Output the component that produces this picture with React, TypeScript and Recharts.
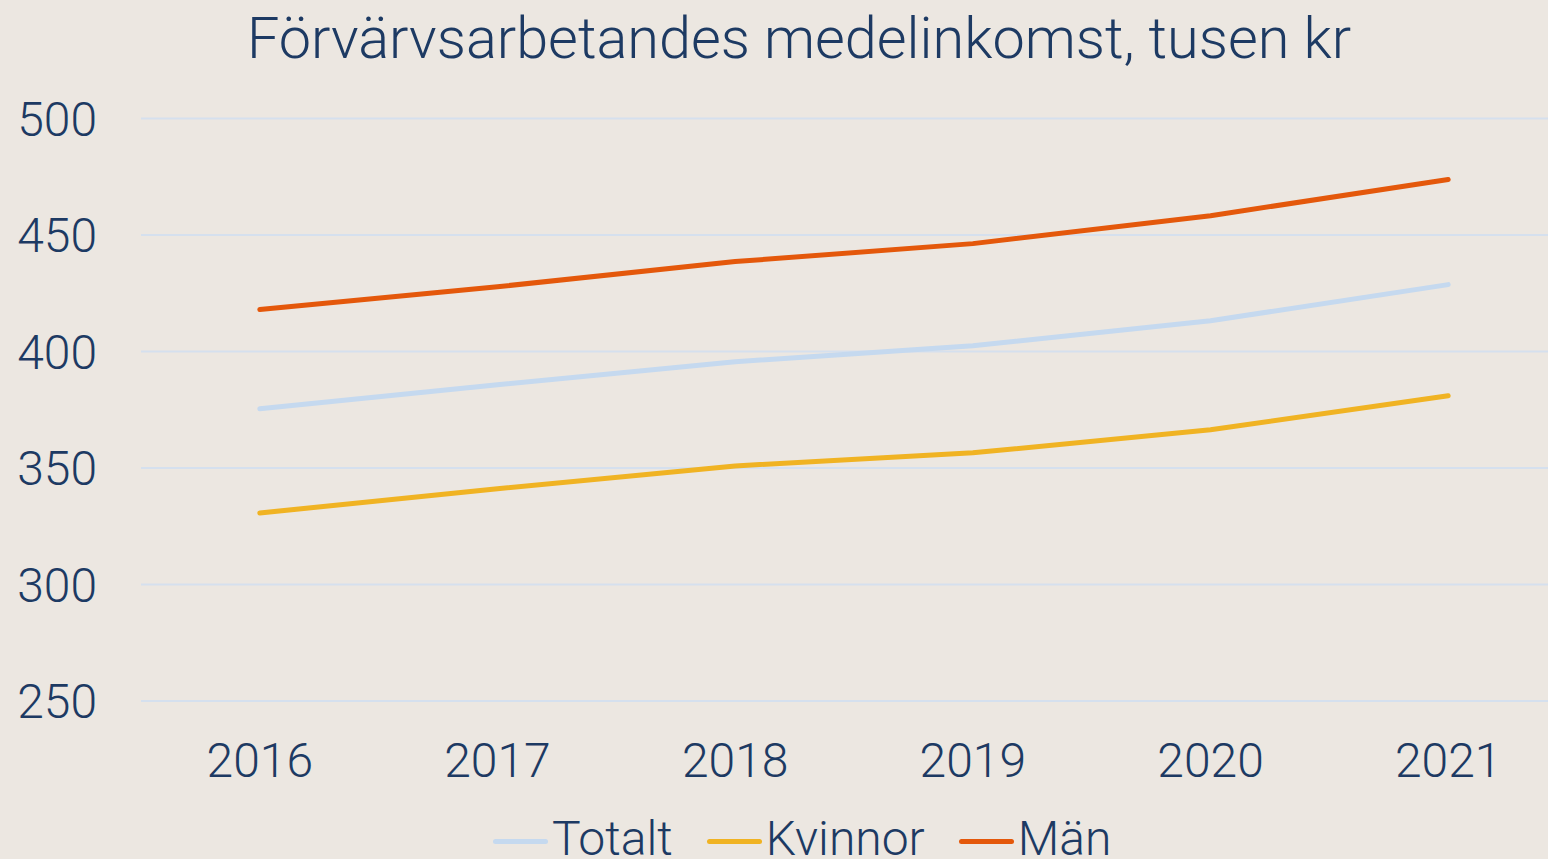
import { CartesianGrid, Legend, Line, LineChart, XAxis, YAxis } from 'recharts';

const years = ['2016', '2017', '2018', '2019', '2020', '2021'];
const totalt = [375.4, 385.7, 395.6, 402.5, 413.2, 428.7];
const kvinnor = [330.7, 341.1, 350.9, 356.5, 366.4, 381.0];
const man = [418.0, 427.8, 438.6, 446.3, 458.3, 473.8];
const yTicks = [250, 300, 350, 400, 450, 500];

const series = [
  { key: 'Totalt', colour: '#c5d9ef' },
  { key: 'Kvinnor', colour: '#f0b323' },
  { key: 'Män', colour: '#e4580b' },
];

const data = years.map((year, i) => ({
  year,
  Totalt: totalt[i],
  Kvinnor: kvinnor[i],
  Män: man[i],
}));

const TEXT = '#1d3a63';
const FONT = 'Roboto, "Noto Sans", sans-serif';

function LegendContent() {
  return (
    <div style={{ display: 'flex', alignItems: 'center', fontFamily: FONT, fontWeight: 300, fontSize: 48, lineHeight: 1, color: TEXT }}>
      {series.map((s) => (
        <div key={s.key} style={{ display: 'flex', alignItems: 'center', marginRight: 34 }}>
          <span style={{ display: 'inline-block', width: 55, height: 5, borderRadius: 3, background: s.colour, marginRight: 4, marginTop: 4 }} />
          <span>{s.key}</span>
        </div>
      ))}
    </div>
  );
}

export default function App() {
  return (
    <div style={{ position: 'absolute', left: 0, top: 0, width: 1548, height: 859, overflow: 'hidden', background: '#ece7e1' }}>
      <div
        style={{
          position: 'absolute',
          left: 0,
          top: 0,
          width: 1598,
          textAlign: 'center',
          fontFamily: FONT,
          fontWeight: 300,
          fontSize: 57.6,
          lineHeight: 1,
          color: TEXT,
          marginTop: 10,
        }}
      >
        Förvärvsarbetandes medelinkomst, tusen kr
      </div>
      <LineChart
        width={1570}
        height={859}
        data={data}
        margin={{ top: 118.5, right: 3, left: 0, bottom: 80 }}
        style={{ position: 'absolute', left: 0, top: 0 }}
      >
        <CartesianGrid vertical={false} stroke="#d5e0ee" strokeWidth={2} />
        <XAxis
          dataKey="year"
          height={30}
          axisLine={false}
          tickLine={false}
          tickSize={0}
          tickMargin={42}
          padding={{ left: 118.8, right: 118.8 }}
          tick={{ fill: TEXT, fontSize: 48, fontFamily: FONT, fontWeight: 300 }}
          interval={0}
        />
        <YAxis
          domain={[250, 500]}
          ticks={yTicks}
          width={141}
          axisLine={false}
          tickLine={false}
          tickSize={0}
          tickMargin={44}
          tick={{ fill: TEXT, fontSize: 48, fontFamily: FONT, fontWeight: 300 }}
        />
        <Legend
          content={LegendContent}
          wrapperStyle={{ position: 'absolute', left: 493, top: 815, width: 'auto', bottom: 'auto' }}
        />
        {series.map((s) => (
          <Line
            key={s.key}
            type="linear"
            dataKey={s.key}
            stroke={s.colour}
            strokeWidth={5}
            strokeLinecap="round"
            strokeLinejoin="round"
            dot={false}
            activeDot={false}
            isAnimationActive={false}
          />
        ))}
      </LineChart>
    </div>
  );
}
